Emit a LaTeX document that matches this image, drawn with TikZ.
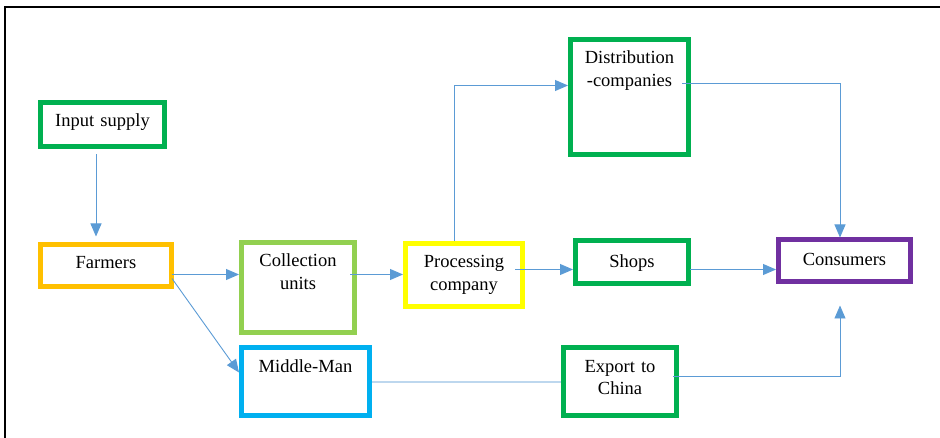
\documentclass[tikz,border=0pt]{standalone}
\usepackage{fontspec}
\setmainfont{Liberation Serif}
\usepackage{xcolor}
\usetikzlibrary{arrows.meta,positioning,calc}
\definecolor{dgreen}{HTML}{00B050}
\definecolor{lgreen}{HTML}{92D050}
\definecolor{orangebox}{HTML}{FFC000}
\definecolor{yellowbox}{HTML}{FFFF00}
\definecolor{cyanbox}{HTML}{00B0F0}
\definecolor{purplebox}{HTML}{7030A0}
\definecolor{flowblue}{HTML}{5B9BD5}
\definecolor{linkblue}{HTML}{BDD7EE}
\begin{document}
\begin{tikzpicture}[x=1pt,y=-1pt,
box/.style={draw,line width=5pt,anchor=north,align=center,inner xsep=0pt,
inner ysep=11pt,text height=13pt,font=\fontsize{18.5}{23}\selectfont},
flow/.style={draw=flowblue,line width=0.9pt,-{Triangle[length=13pt,width=11pt]}},
link/.style={draw=linkblue,line width=2pt}]
\useasboundingbox (0,0) rectangle (940,438);
\draw [line width=1.2pt] (940,7) -- (5,7) -- (5,438);
\node (input) [box,draw=dgreen,text width=124pt,text depth=9pt] at (102.5,100.5)
{Input supply};
\node (farm) [box,draw=orangebox,text width=131pt,text depth=7pt] at (106,242.5)
{Farmers};
\node (coll) [box,draw=lgreen,text width=113pt,text depth=55pt] at (298,240.5)
{Collection\\units};
\node (mid) [box,draw=cyanbox,text width=128pt,text depth=32pt] at (305.5,345.5)
{Middle-Man};
\node (proc) [box,draw=yellowbox,text width=117pt,text depth=28pt] at (464,241.5)
{Processing\\company};
\node (dist) [box,draw=dgreen,text width=118pt,text depth=80pt] at (629.5,37.5)
{Distribution\\-companies};
\node (shop) [box,draw=dgreen,inner ysep=14pt,text width=113pt,text depth=2pt] at (632,238.5)
{Shops};
\node (cons) [box,draw=purplebox,inner ysep=12.5pt,text width=132pt,text depth=4pt] at (844.5,237.5)
{Consumers};
\node (exp) [box,draw=dgreen,text width=113pt,text depth=32pt] at (620,345.5)
{Export to\\China};
\draw [flow] ($(input.south)+(-6.5,5)$) -- ($(farm.north)+(-10,-6)$);
\draw [flow] ($(farm.east)+(-2,8.5)$) coordinate (f1) -- (f1 -| coll.west);
\draw [flow] ($(farm.east)+(-2,12.5)$) -- ($(mid.west)+(0,-9)$);
\draw [flow] ($(coll.east)+(-7,-13.5)$) coordinate (c1) -- (c1 -| proc.west);
\draw [flow] ($(proc.north)+(-10,0)$) |- ($(dist.west)+(0,-12)$);
\draw [flow] ($(dist.east)+(-9,-14)$) -| ($(cons.north)+(-4.5,0)$);
\draw [flow] ($(proc.east)+(-10,-6)$) coordinate (p1) -- (p1 -| shop.west);
\draw [flow] ($(shop.east)+(-1,7)$) coordinate (s1) -- (s1 -| cons.west);
\draw [link] (mid.east) -- (exp.west);
\draw [flow] ($(exp.east)+(-6,-5)$) -| ($(cons.south)+(-4.5,21)$);
\end{tikzpicture}
\end{document}
